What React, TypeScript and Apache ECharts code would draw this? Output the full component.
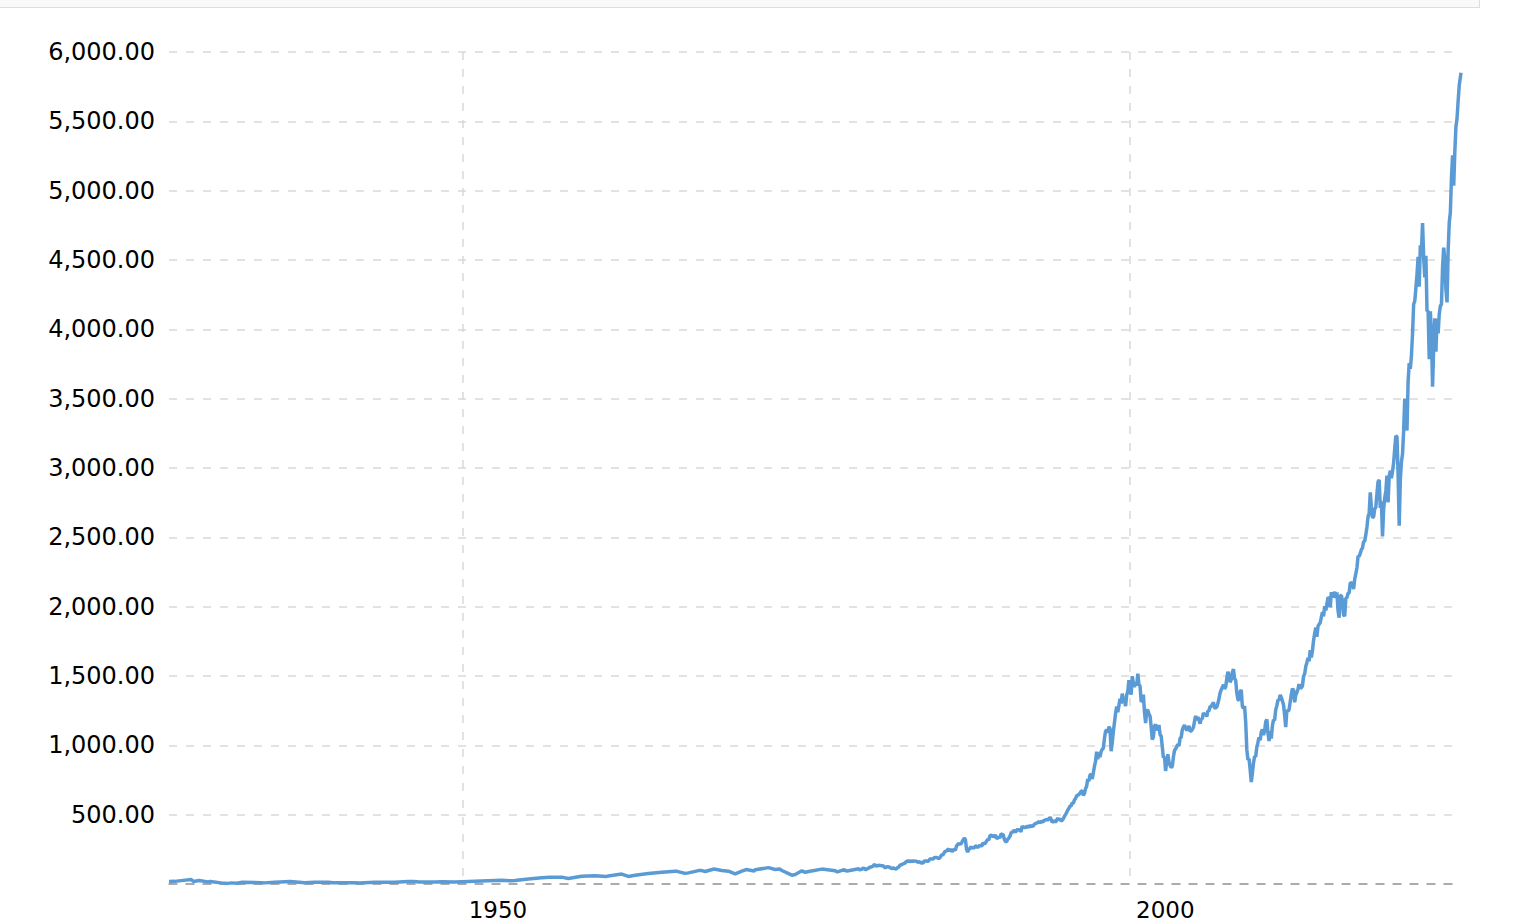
import * as echarts from "echarts";
import { useEffect, useRef } from "react";

/** 线色与网格色（取自参考图）。 */
const LINE_COLOR = "#5b9bd5";
const GRID_COLOR = "#d9d9d9";
const AXIS_COLOR = "#999999";

/** 1928–1979：稀疏取点（年末 + 主要拐点），[年, 月(1-12), 收盘]。 */
const EARLY_POINTS: [number, number, number][] = [
  [1928, 1, 17.57], [1928, 6, 19.0], [1928, 12, 24.35], [1929, 9, 31.86],
  [1929, 11, 17.66], [1930, 4, 25.46], [1930, 12, 15.34], [1931, 2, 18.1],
  [1931, 12, 8.12], [1932, 6, 4.43], [1932, 9, 8.1], [1933, 2, 5.66],
  [1933, 7, 11.9], [1934, 12, 9.5], [1935, 3, 8.1], [1935, 12, 13.43],
  [1937, 2, 18.1], [1938, 3, 8.5], [1938, 12, 13.21], [1939, 12, 12.49],
  [1940, 5, 9.27], [1941, 12, 8.69], [1942, 4, 7.47], [1943, 6, 12.0],
  [1944, 12, 13.28], [1945, 12, 17.36], [1946, 5, 18.7], [1946, 10, 14.0],
  [1947, 12, 15.3], [1948, 6, 16.8], [1949, 6, 13.97], [1949, 12, 16.76],
  [1950, 12, 20.41], [1951, 12, 23.77], [1952, 12, 26.57], [1953, 9, 23.0],
  [1953, 12, 24.81], [1954, 12, 35.98], [1955, 12, 45.48], [1956, 7, 49.0],
  [1957, 7, 47.9], [1957, 12, 39.99], [1958, 12, 55.21], [1959, 12, 59.89],
  [1960, 10, 53.4], [1960, 12, 58.11], [1961, 12, 71.55], [1962, 6, 54.75],
  [1962, 12, 63.1], [1963, 12, 75.02], [1964, 12, 84.75], [1965, 12, 92.43],
  [1966, 1, 92.88], [1966, 9, 76.56], [1966, 12, 80.33], [1967, 9, 96.71],
  [1967, 12, 96.47], [1968, 3, 90.2], [1968, 11, 108.37], [1969, 6, 97.7],
  [1969, 12, 92.06], [1970, 6, 72.72], [1970, 12, 92.15], [1971, 4, 103.95],
  [1971, 11, 93.99], [1971, 12, 102.09], [1972, 12, 118.05], [1973, 6, 104.26],
  [1973, 10, 108.29], [1973, 12, 97.55], [1974, 9, 63.54], [1974, 12, 68.56],
  [1975, 6, 95.19], [1975, 9, 83.87], [1975, 12, 90.19], [1976, 12, 107.46],
  [1977, 12, 95.1], [1978, 2, 87.04], [1978, 8, 103.29], [1978, 10, 93.15],
  [1978, 12, 96.11], [1979, 9, 109.32], [1979, 10, 101.82], [1979, 12, 107.94],
];

/** 逐月收盘，从各年代 1 月起。 */
const CLOSES_1980S = [
  114.16, 113.66, 102.09, 106.29, 111.24, 114.24, 121.67, 122.38, 125.46, 127.47, 140.52, 135.76,
  129.55, 131.27, 136.0, 132.81, 132.59, 131.21, 130.92, 122.79, 116.18, 121.89, 126.35, 122.55,
  120.4, 113.11, 111.96, 116.44, 111.88, 109.61, 107.09, 119.51, 120.42, 133.71, 138.54, 140.64,
  145.3, 148.06, 152.96, 164.42, 162.39, 168.11, 162.56, 164.4, 166.07, 163.55, 166.4, 164.93,
  163.41, 157.06, 159.18, 160.05, 150.55, 153.18, 150.66, 166.68, 166.1, 166.09, 163.58, 167.24,
  179.63, 181.18, 180.66, 179.83, 189.55, 191.85, 190.92, 188.63, 182.08, 189.82, 202.17, 211.28,
  211.78, 226.92, 238.9, 235.52, 247.35, 250.84, 236.12, 252.93, 231.32, 243.98, 249.22, 242.17,
  274.08, 284.2, 291.7, 288.36, 290.1, 304.0, 318.66, 329.8, 321.83, 251.79, 230.3, 247.08,
  257.07, 267.82, 258.89, 261.33, 262.16, 273.5, 272.02, 261.52, 271.91, 278.97, 273.7, 277.72,
  297.47, 288.86, 294.87, 309.64, 320.52, 317.98, 346.08, 351.45, 349.15, 340.36, 345.99, 353.4,
];
const CLOSES_1990S = [
  329.08, 331.89, 339.94, 330.8, 361.23, 358.02, 356.15, 322.56, 306.05, 304.0, 322.22, 330.22,
  343.93, 367.07, 375.22, 375.35, 389.83, 371.16, 387.81, 395.43, 387.86, 392.46, 375.22, 417.09,
  408.79, 412.7, 403.69, 414.95, 415.35, 408.14, 424.21, 414.03, 417.8, 418.68, 431.35, 435.71,
  438.78, 443.38, 451.67, 440.19, 450.19, 450.53, 448.13, 463.56, 458.93, 467.83, 461.79, 466.45,
  481.61, 467.14, 445.77, 450.91, 456.5, 444.27, 458.26, 475.49, 462.69, 472.35, 453.69, 459.27,
  470.42, 487.39, 500.71, 514.71, 533.4, 544.75, 562.06, 561.88, 584.41, 581.5, 605.37, 615.93,
  636.02, 640.43, 645.5, 654.17, 669.12, 670.63, 639.95, 651.99, 687.31, 705.27, 757.02, 740.74,
  786.16, 790.82, 757.12, 801.34, 848.28, 885.14, 954.31, 899.47, 947.28, 914.62, 955.4, 970.43,
  980.28, 1049.34, 1101.75, 1111.75, 1090.82, 1133.84, 1120.67, 957.28, 1017.01, 1098.67, 1163.63, 1229.23,
  1279.64, 1238.33, 1286.37, 1335.18, 1301.84, 1372.71, 1328.72, 1320.41, 1282.71, 1362.93, 1388.91, 1469.25,
];
const CLOSES_2000S = [
  1394.46, 1366.42, 1498.58, 1452.43, 1420.6, 1454.6, 1430.83, 1517.68, 1436.51, 1429.4, 1314.95, 1320.28,
  1366.01, 1239.94, 1160.33, 1249.46, 1255.82, 1224.42, 1211.23, 1133.58, 1040.94, 1059.78, 1139.45, 1148.08,
  1130.2, 1106.73, 1147.39, 1076.92, 1067.14, 989.82, 911.62, 916.07, 815.28, 885.76, 936.31, 879.82,
  855.7, 841.15, 848.18, 916.92, 963.59, 974.5, 990.31, 1008.01, 995.97, 1050.71, 1058.2, 1111.92,
  1131.13, 1144.94, 1126.21, 1107.3, 1120.68, 1140.84, 1101.72, 1104.24, 1114.58, 1130.2, 1173.82, 1211.92,
  1181.27, 1203.6, 1180.59, 1156.85, 1191.5, 1191.33, 1234.18, 1220.33, 1228.81, 1207.01, 1249.48, 1248.29,
  1280.08, 1280.66, 1294.87, 1310.61, 1270.09, 1270.2, 1276.66, 1303.82, 1335.85, 1377.94, 1400.63, 1418.3,
  1438.24, 1406.82, 1420.86, 1482.37, 1530.62, 1503.35, 1455.27, 1473.99, 1526.75, 1549.38, 1481.14, 1468.36,
  1378.55, 1330.63, 1322.7, 1385.59, 1400.38, 1280.0, 1267.38, 1282.83, 1166.36, 968.75, 896.24, 903.25,
  825.88, 735.09, 797.87, 872.81, 919.14, 919.32, 987.48, 1020.62, 1057.08, 1036.19, 1095.63, 1115.1,
];
const CLOSES_2010S = [
  1073.87, 1104.49, 1169.43, 1186.69, 1089.41, 1030.71, 1101.6, 1049.33, 1141.2, 1183.26, 1180.55, 1257.64,
  1286.12, 1327.22, 1325.83, 1363.61, 1345.2, 1320.64, 1292.28, 1218.89, 1131.42, 1253.3, 1246.96, 1257.6,
  1312.41, 1365.68, 1408.47, 1397.91, 1310.33, 1362.16, 1379.32, 1406.58, 1440.67, 1412.16, 1416.18, 1426.19,
  1498.11, 1514.68, 1569.19, 1597.57, 1630.74, 1606.28, 1685.73, 1632.97, 1681.55, 1756.54, 1805.81, 1848.36,
  1782.59, 1859.45, 1872.34, 1883.95, 1923.57, 1960.23, 1930.67, 2003.37, 1972.29, 2018.05, 2067.56, 2058.9,
  1994.99, 2104.5, 2067.89, 2085.51, 2107.39, 2063.11, 2103.84, 1972.18, 1920.03, 2079.36, 2080.41, 2043.94,
  1940.24, 1932.23, 2059.74, 2065.3, 2096.95, 2098.86, 2173.6, 2170.95, 2168.27, 2126.15, 2198.81, 2238.83,
  2278.87, 2363.64, 2362.72, 2384.2, 2411.8, 2423.41, 2470.3, 2471.65, 2519.36, 2575.26, 2647.58, 2673.61,
  2823.81, 2713.83, 2640.87, 2648.05, 2705.27, 2718.37, 2816.29, 2901.52, 2913.98, 2711.74, 2760.17, 2506.85,
  2704.1, 2784.49, 2834.4, 2945.83, 2752.06, 2941.76, 2980.38, 2926.46, 2976.74, 3037.56, 3140.98, 3230.78,
];
const CLOSES_2020S = [
  3225.52, 2954.22, 2584.59, 2912.43, 3044.31, 3100.29, 3271.12, 3500.31, 3363.0, 3269.96, 3621.63, 3756.07,
  3714.24, 3811.15, 3972.89, 4181.17, 4204.11, 4297.5, 4395.26, 4522.68, 4307.54, 4605.38, 4567.0, 4766.18,
  4515.55, 4373.94, 4530.41, 4131.93, 4132.15, 3785.38, 4130.29, 3955.0, 3585.62, 3871.98, 4080.11, 3839.5,
  4076.6, 3970.15, 4109.31, 4169.48, 4179.83, 4450.38, 4588.96, 4507.66, 4288.05, 4193.8, 4567.8, 4769.83,
  4845.65, 5096.27, 5254.35, 5035.69, 5277.51, 5460.48, 5522.3, 5648.4, 5762.48,
];
/** 最新一点（10 月中旬）：[年, 月, 日, 收盘]。 */
const LAST_POINT: [number, number, number, number] = [2024, 10, 18, 5850];

const DECADES: [number, number[]][] = [
  [1980, CLOSES_1980S],
  [1990, CLOSES_1990S],
  [2000, CLOSES_2000S],
  [2010, CLOSES_2010S],
  [2020, CLOSES_2020S],
];

/** X 轴标注年份。 */
const X_TICK_YEARS = [1950, 2000];

/** 年 + 月 → 小数年（X 轴用 value 轴，单位为年）。 */
function yearPos(year: number, month: number, day = 1): number {
  return year + (month - 1) / 12 + (day - 1) / 365;
}

function buildSeriesData(): [number, number][] {
  const out: [number, number][] = EARLY_POINTS.map(([y, m, v]) => [yearPos(y, m), v]);
  for (const [startYear, closes] of DECADES) {
    closes.forEach((v, i) => out.push([startYear + i / 12, v]));
  }
  out.push([yearPos(LAST_POINT[0], LAST_POINT[1], LAST_POINT[2]), LAST_POINT[3]]);
  return out;
}

function fmtValue(v: number): string {
  if (v === 0) {
    return "";
  }
  return v.toLocaleString("en-US", { minimumFractionDigits: 2, maximumFractionDigits: 2 });
}

function buildOption(): echarts.EChartsOption {
  const data = buildSeriesData();
  return {
    animation: false,
    grid: { left: 169, right: 58, top: 52, bottom: 40, containLabel: false },
    xAxis: {
      type: "value",
      min: data[0][0],
      max: data[data.length - 1][0],
      axisLine: { show: true, onZero: false, lineStyle: { color: AXIS_COLOR, width: 1.5, type: [8, 9] } },
      axisTick: { show: false, customValues: X_TICK_YEARS },
      axisLabel: {
        customValues: X_TICK_YEARS,
        formatter: (value: number) => String(Math.round(value)),
        align: "left",
        padding: [0, 0, 0, 6],
        margin: 14,
        lineHeight: 23,
        color: "#000000",
        fontSize: 23,
        fontFamily: "DejaVu Sans",
      },
      splitLine: { show: true, lineStyle: { color: GRID_COLOR, width: 1.5, type: [8, 9] } },
    },
    yAxis: {
      type: "value",
      min: 0,
      max: 6000,
      interval: 500,
      axisLine: { show: false },
      axisTick: { show: false },
      axisLabel: {
        formatter: fmtValue,
        margin: 14,
        color: "#000000",
        fontSize: 24,
        fontFamily: "DejaVu Sans",
      },
      splitLine: { show: true, lineStyle: { color: GRID_COLOR, width: 1.5, type: [8, 9] } },
    },
    series: [
      {
        type: "line",
        data,
        showSymbol: false,
        symbol: "none",
        lineStyle: { color: LINE_COLOR, width: 3.5 },
        z: 3,
      },
    ],
  };
}

export default function App() {
  const chartRef = useRef<HTMLDivElement | null>(null);

  useEffect(() => {
    const el = chartRef.current;
    if (!el) {
      return undefined;
    }
    const chart = echarts.init(el, undefined, { renderer: "svg" });
    chart.setOption(buildOption());
    return () => {
      chart.dispose();
    };
  }, []);

  return (
    <div style={{ position: "fixed", left: 0, top: 0, width: 1519, height: 924, background: "#ffffff" }}>
      <div
        style={{
          position: "absolute",
          left: 0,
          top: 0,
          width: 1480,
          height: 8,
          boxSizing: "border-box",
          background: "#f9f9f9",
          borderRight: "1px solid #dddddd",
          borderBottom: "1px solid #dddddd",
        }}
      />
      <div ref={chartRef} style={{ position: "absolute", left: 0, top: 0, width: 1519, height: 924 }} />
    </div>
  );
}
